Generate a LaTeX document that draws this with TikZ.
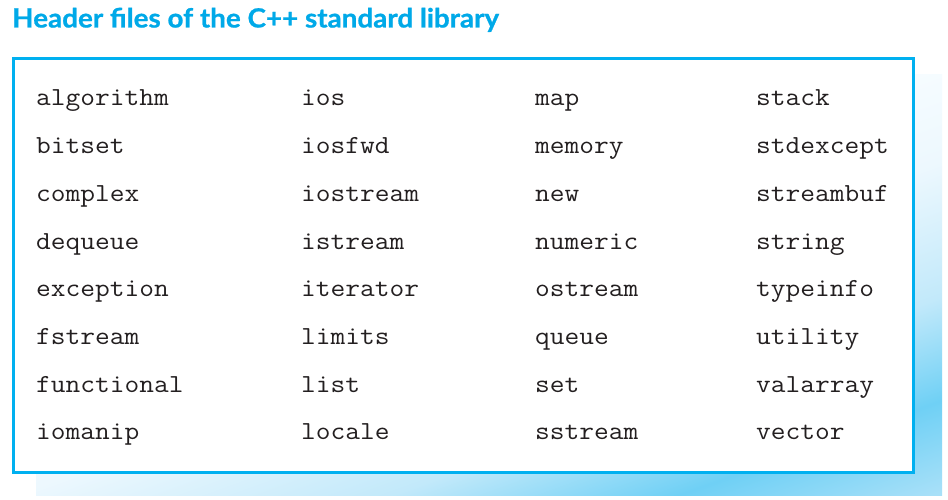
\documentclass[tikz,border=0pt]{standalone}
\usepackage{fontspec}
\newfontfamily\titlefont{Lato}[FakeStretch=1.05,FakeBold=0.8]
\newfontfamily\codefont{Latin Modern Mono}[FakeStretch=1.1]
\definecolor{titleblue}{HTML}{00A9E8}
\definecolor{boxblue}{HTML}{00B0F0}
\definecolor{codeink}{HTML}{231F20}
\definecolor{sh0}{HTML}{F6FCFF}
\definecolor{sh1}{HTML}{EDF8FE}
\definecolor{sh2}{HTML}{C2E9FA}
\definecolor{sh3}{HTML}{6FD0F5}
\definecolor{sh4}{HTML}{A8E0F8}
\pgfdeclarehorizontalshading{shadowgrad}{100bp}{color(0bp)=(sh0); color(25bp)=(sh0); color(36bp)=(sh1); color(51.6bp)=(sh2); color(63.5bp)=(sh3); color(74bp)=(sh4); color(100bp)=(sh4)}
\tikzset{
  codeitem/.style={anchor=base west, inner sep=0pt, text=codeink, font=\codefont\fontsize{26}{26}\selectfont},
  titletext/.style={anchor=base west, inner sep=0pt, text=titleblue, font=\titlefont\bfseries\fontsize{26.5}{26.5}\selectfont},
  framebox/.style={draw=boxblue, line width=3pt, fill=white, inner sep=0pt, outer sep=0pt, anchor=north west}
}
\begin{document}
\begin{tikzpicture}[x=1pt,y=1pt]
\useasboundingbox (0,0) rectangle (948,-500);
\fill[white] (0,0) rectangle (948,-500);
% shadow with diagonal gradient
\begin{scope}
  \clip (36,-75) rectangle (942,-495);
  \begin{scope}[transform canvas={rotate=-70.2}]
    \shade[shading=shadowgrad] (380,-150) rectangle (790,880);
  \end{scope}
\end{scope}
% frame
\node[framebox, minimum width=900pt, minimum height=414pt] (frame) at (13.5,-58.5) {};
% title
\node[titletext] (title) at (12,-27.5) {Header files of the C++ standard library};
% header names
\foreach \name [count=\i from 0] in {algorithm,bitset,complex,dequeue,exception,fstream,functional,iomanip}
  \node[codeitem] (a\i) at (36,-106-47.7*\i) {\name};
\foreach \name [count=\i from 0] in {ios,iosfwd,iostream,istream,iterator,limits,list,locale}
  \node[codeitem] (b\i) at (301,-106-47.7*\i) {\name};
\foreach \name [count=\i from 0] in {map,memory,new,numeric,ostream,queue,set,sstream}
  \node[codeitem] (c\i) at (535,-106-47.7*\i) {\name};
\foreach \name [count=\i from 0] in {stack,stdexcept,streambuf,string,typeinfo,utility,valarray,vector}
  \node[codeitem] (d\i) at (756,-106-47.7*\i) {\name};
\end{tikzpicture}
\end{document}
